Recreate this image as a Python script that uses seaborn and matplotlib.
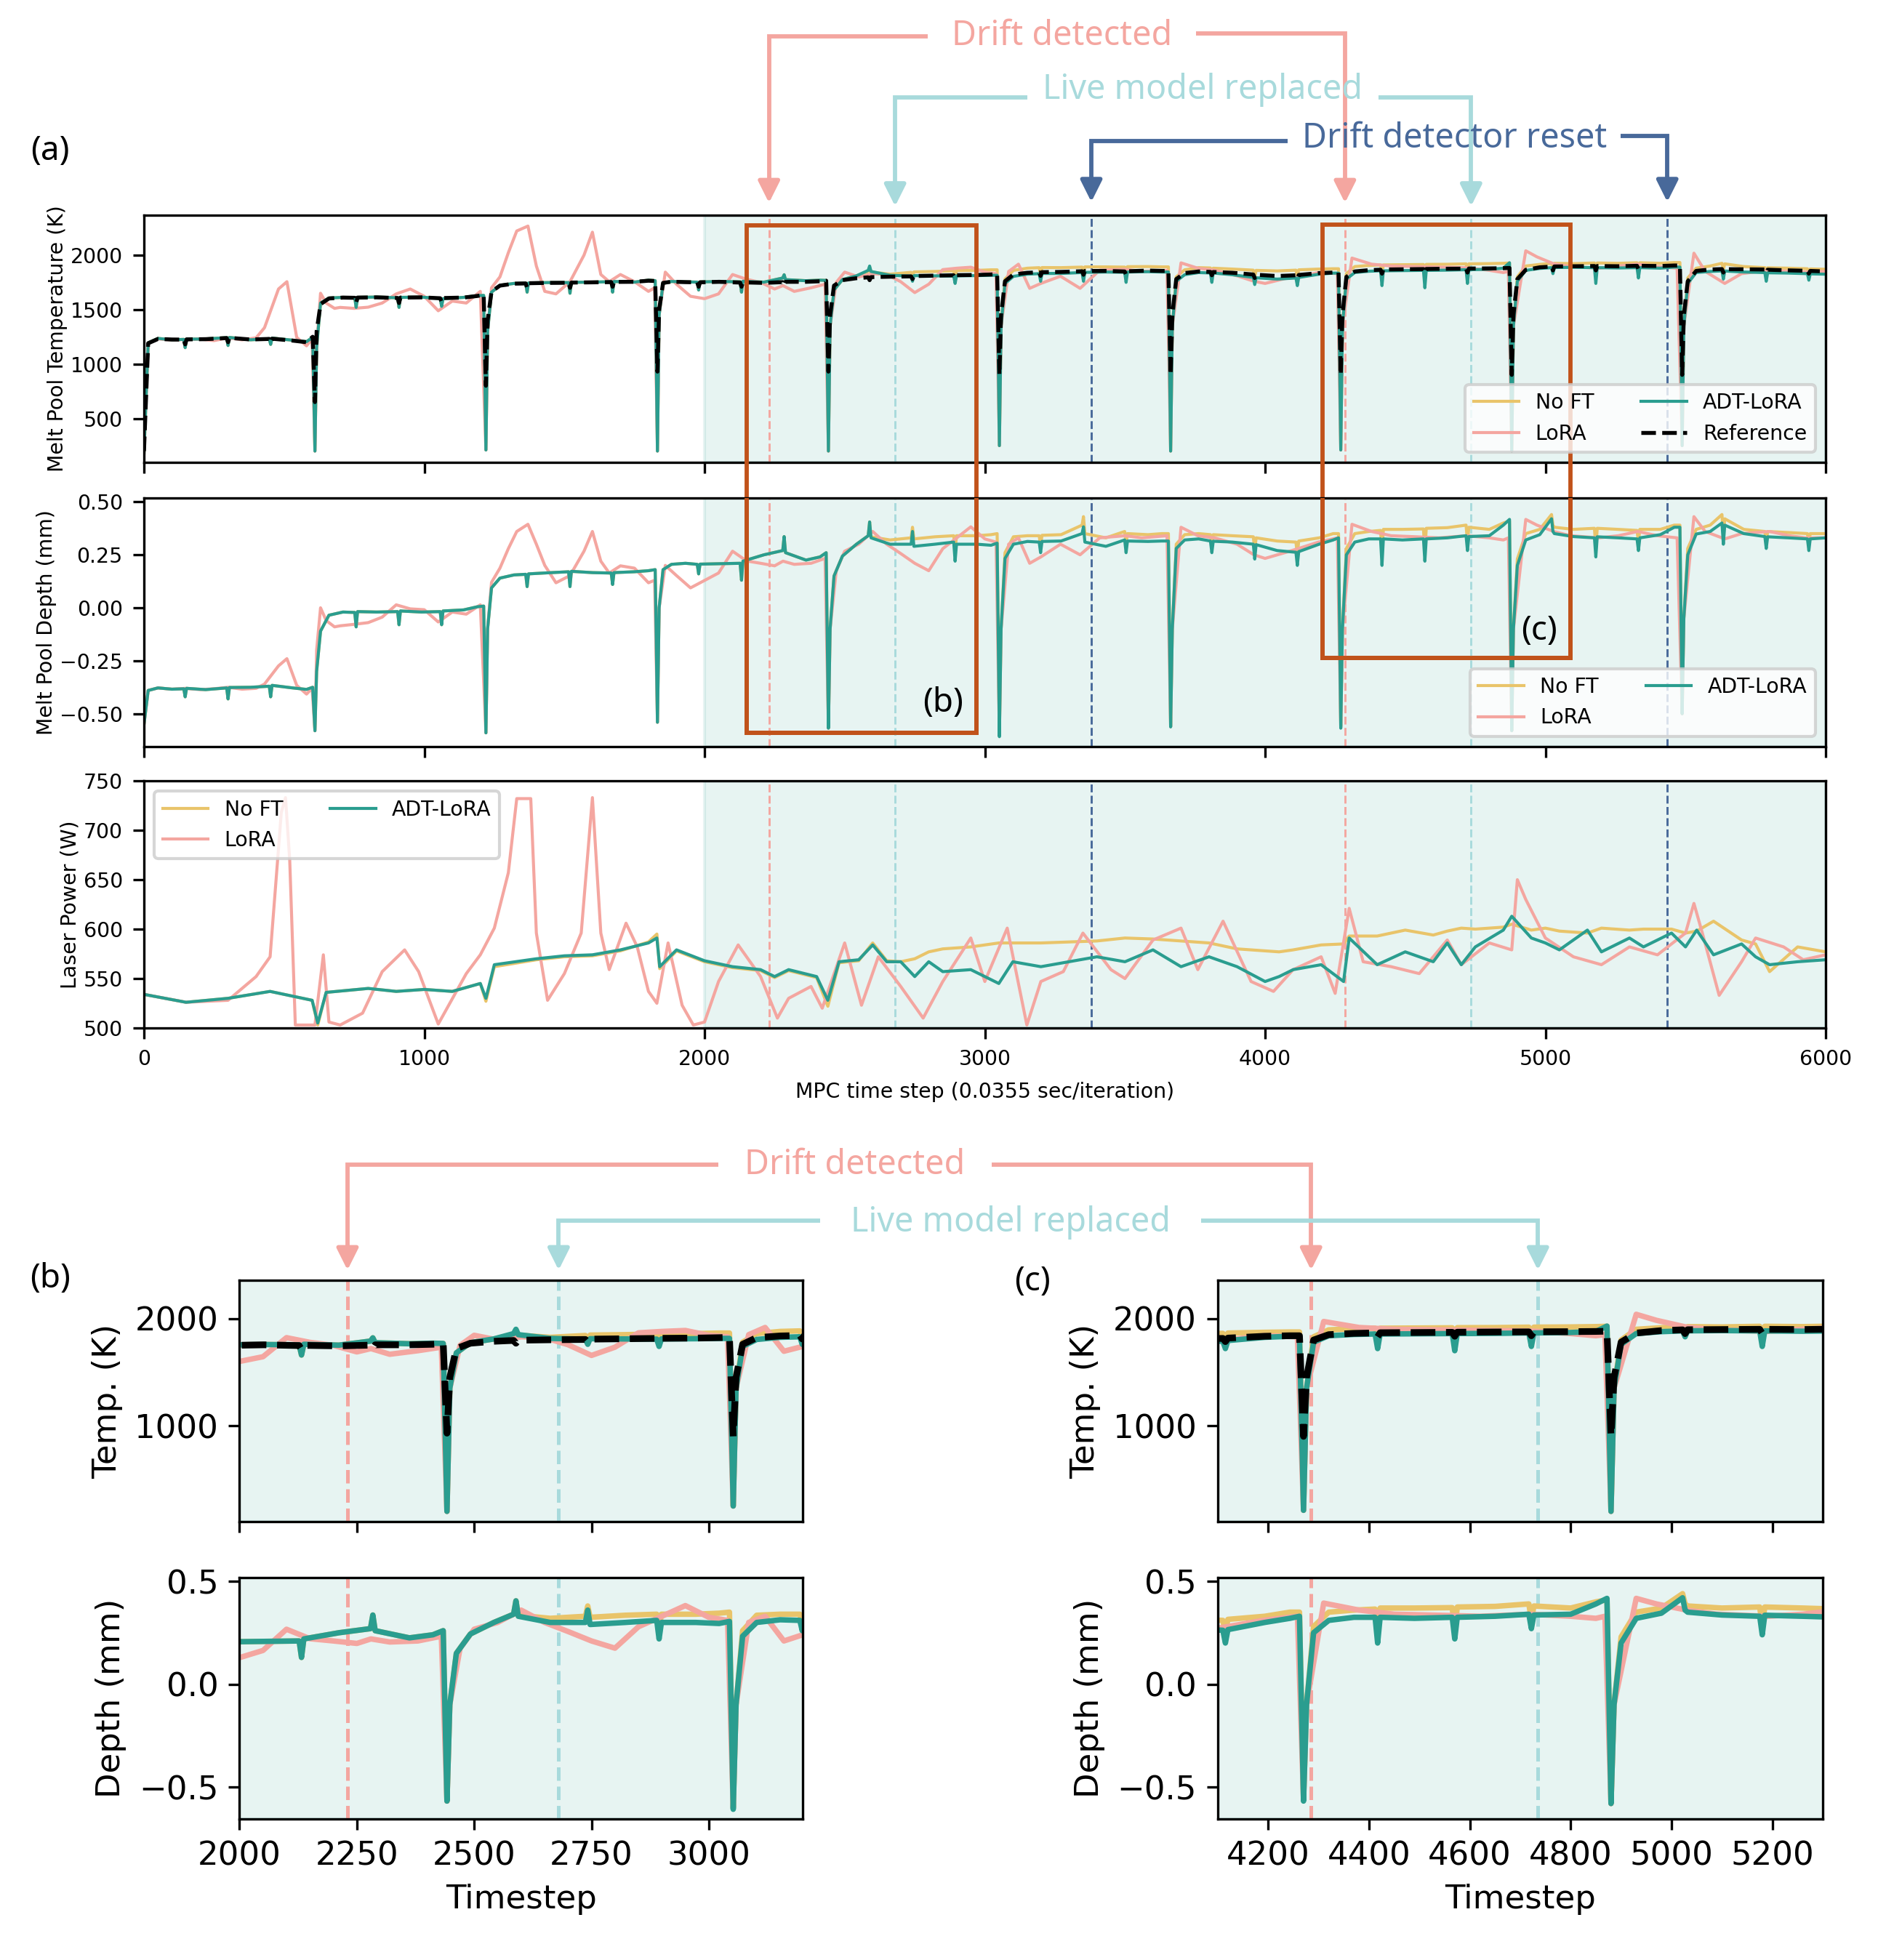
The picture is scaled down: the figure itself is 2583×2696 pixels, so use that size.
import matplotlib
matplotlib.use("Agg")
import matplotlib.pyplot as plt
import seaborn as sns
from matplotlib.lines import Line2D
from matplotlib.patches import FancyArrowPatch, Rectangle

plt.rcParams['font.family'] = ['DejaVu Sans']

# ---------------- data ----------------
# time steps (one row per layer; big dip at layer start, small dips at quarter tracks)
steps = [
    0, 15, 50, 100, 142, 147, 152, 220, 295, 300, 305, 380, 447, 452, 457, 530, 580,
    602, 610, 616, 630, 660, 710, 752, 757, 762, 830, 905, 910, 915, 990, 1057, 1062, 1067, 1140, 1190,
    1212, 1220, 1226, 1240, 1270, 1320, 1362, 1367, 1372, 1440, 1515, 1520, 1525, 1600, 1667, 1672, 1677, 1750, 1800,
    1824, 1832, 1838, 1852, 1882, 1932, 1974, 1979, 1984, 2052, 2127, 2132, 2137, 2212, 2279, 2284, 2289, 2362, 2412,
    2434, 2442, 2448, 2462, 2492, 2542, 2584, 2589, 2594, 2662, 2737, 2742, 2747, 2822, 2889, 2894, 2899, 2972, 3022,
    3044, 3052, 3058, 3072, 3102, 3152, 3194, 3199, 3204, 3272, 3347, 3352, 3357, 3432, 3499, 3504, 3509, 3582, 3632,
    3655, 3663, 3669, 3683, 3713, 3763, 3805, 3810, 3815, 3883, 3958, 3963, 3968, 4043, 4110, 4115, 4120, 4193, 4243,
    4262, 4270, 4276, 4290, 4320, 4370, 4412, 4417, 4422, 4490, 4565, 4570, 4575, 4650, 4717, 4722, 4727, 4800, 4850,
    4872, 4880, 4886, 4900, 4930, 4980, 5022, 5027, 5032, 5100, 5175, 5180, 5185, 5260, 5327, 5332, 5337, 5410, 5460,
    5480, 5488, 5494, 5508, 5538, 5588, 5630, 5635, 5640, 5708, 5783, 5788, 5793, 5868, 5935, 5940, 5945, 6000,
]

ref_temp = [
    200, 1190, 1230, 1225, 1224, 1180, 1226, 1228, 1238, 1200, 1240, 1225, 1230, 1195, 1232, 1215, 1200,
    1250, 650, 1300, 1550, 1602, 1610, 1608, 1560, 1610, 1612, 1606, 1560, 1610, 1612, 1604, 1570, 1606, 1610, 1625,
    1635, 800, 1400, 1665, 1720, 1738, 1740, 1700, 1742, 1745, 1746, 1700, 1748, 1750, 1752, 1710, 1754, 1755, 1765,
    1762, 930, 1500, 1745, 1756, 1752, 1750, 1710, 1750, 1755, 1748, 1710, 1750, 1745, 1752, 1720, 1755, 1755, 1760,
    1765, 930, 1450, 1720, 1770, 1788, 1796, 1770, 1798, 1802, 1805, 1780, 1808, 1812, 1815, 1790, 1816, 1818, 1822,
    1825, 900, 1450, 1760, 1822, 1838, 1842, 1810, 1844, 1846, 1852, 1820, 1854, 1855, 1850, 1820, 1852, 1858, 1855,
    1855, 900, 1450, 1780, 1835, 1850, 1846, 1815, 1845, 1838, 1822, 1790, 1820, 1808, 1815, 1785, 1818, 1835, 1840,
    1840, 900, 1450, 1800, 1850, 1862, 1866, 1830, 1868, 1870, 1872, 1835, 1873, 1875, 1876, 1840, 1877, 1878, 1880,
    1882, 900, 1450, 1780, 1865, 1888, 1895, 1860, 1896, 1898, 1900, 1860, 1900, 1898, 1902, 1870, 1902, 1900, 1905,
    1905, 900, 1450, 1760, 1855, 1868, 1872, 1840, 1871, 1870, 1868, 1840, 1866, 1860, 1856, 1830, 1855, 1850,
]

adt_temp = [
    180, 1195, 1235, 1222, 1226, 1150, 1228, 1230, 1242, 1170, 1244, 1222, 1232, 1180, 1238, 1218, 1205,
    1245, 200, 1150, 1560, 1606, 1612, 1610, 1520, 1612, 1615, 1608, 1520, 1612, 1614, 1602, 1530, 1600, 1612, 1628,
    1630, 210, 1300, 1660, 1722, 1740, 1742, 1660, 1744, 1748, 1748, 1650, 1750, 1752, 1756, 1660, 1758, 1752, 1770,
    1765, 200, 1450, 1740, 1758, 1755, 1752, 1680, 1754, 1758, 1755, 1660, 1760, 1752, 1790, 1820, 1775, 1765, 1770,
    1768, 200, 1350, 1680, 1775, 1810, 1860, 1900, 1850, 1815, 1808, 1760, 1812, 1810, 1808, 1740, 1810, 1812, 1815,
    1815, 250, 1350, 1740, 1805, 1825, 1830, 1760, 1832, 1832, 1840, 1760, 1842, 1845, 1842, 1750, 1845, 1848, 1845,
    1845, 200, 1350, 1760, 1820, 1840, 1836, 1750, 1836, 1820, 1795, 1730, 1792, 1780, 1790, 1720, 1795, 1825, 1835,
    1835, 210, 1350, 1780, 1840, 1852, 1856, 1720, 1856, 1858, 1860, 1700, 1860, 1862, 1866, 1740, 1866, 1870, 1880,
    1930, 200, 1350, 1760, 1860, 1878, 1885, 1830, 1886, 1888, 1885, 1740, 1885, 1882, 1885, 1790, 1885, 1880, 1890,
    1890, 250, 1350, 1740, 1840, 1850, 1855, 1780, 1854, 1845, 1840, 1760, 1838, 1835, 1830, 1770, 1828, 1825,
]

noft_temp = [
    180, 1195, 1235, 1222, 1226, 1150, 1228, 1230, 1242, 1170, 1244, 1222, 1232, 1180, 1238, 1218, 1205,
    1245, 200, 1150, 1560, 1606, 1612, 1610, 1520, 1612, 1615, 1608, 1520, 1612, 1614, 1602, 1530, 1600, 1612, 1628,
    1630, 210, 1300, 1660, 1722, 1740, 1742, 1660, 1744, 1748, 1748, 1650, 1750, 1752, 1756, 1660, 1758, 1752, 1770,
    1765, 200, 1450, 1740, 1758, 1755, 1752, 1680, 1754, 1758, 1755, 1660, 1760, 1752, 1790, 1820, 1775, 1765, 1770,
    1768, 200, 1350, 1680, 1775, 1810, 1850, 1890, 1845, 1825, 1842, 1800, 1846, 1850, 1856, 1790, 1858, 1860, 1865,
    1865, 250, 1350, 1780, 1860, 1880, 1885, 1820, 1886, 1885, 1890, 1830, 1892, 1892, 1890, 1820, 1894, 1895, 1892,
    1892, 200, 1350, 1800, 1865, 1885, 1882, 1820, 1880, 1872, 1862, 1800, 1860, 1855, 1862, 1800, 1865, 1872, 1875,
    1875, 210, 1350, 1830, 1895, 1905, 1910, 1830, 1910, 1912, 1914, 1820, 1915, 1916, 1920, 1840, 1920, 1922, 1925,
    1928, 200, 1350, 1800, 1900, 1915, 1925, 1880, 1925, 1922, 1928, 1800, 1928, 1925, 1930, 1840, 1930, 1925, 1932,
    1932, 250, 1350, 1790, 1880, 1900, 1925, 1870, 1920, 1895, 1885, 1830, 1884, 1880, 1875, 1830, 1873, 1870,
]

adt_depth = [
    -0.55, -0.39, -0.378, -0.384, -0.382, -0.42, -0.38, -0.386, -0.378, -0.43, -0.376, -0.375, -0.37, -0.42, -0.366, -0.378, -0.385,
    -0.375, -0.58, -0.3, -0.11, -0.035, -0.02, -0.022, -0.09, -0.018, -0.02, -0.018, -0.08, -0.015, -0.02, -0.018, -0.08, -0.015, -0.01, 0.005,
    0.008, -0.59, -0.1, 0.094, 0.14, 0.155, 0.158, 0.1, 0.16, 0.165, 0.17, 0.1, 0.172, 0.166, 0.164, 0.11, 0.166, 0.17, 0.175,
    0.18, -0.54, 0.0, 0.18, 0.205, 0.21, 0.205, 0.16, 0.206, 0.208, 0.21, 0.13, 0.22, 0.25, 0.27, 0.336, 0.26, 0.225, 0.24,
    0.26, -0.568, -0.1, 0.15, 0.244, 0.3, 0.34, 0.405, 0.33, 0.3, 0.3, 0.36, 0.29, 0.3, 0.31, 0.22, 0.3, 0.3, 0.295,
    0.305, -0.608, -0.1, 0.233, 0.3, 0.313, 0.31, 0.26, 0.313, 0.315, 0.35, 0.382, 0.31, 0.29, 0.32, 0.26, 0.315, 0.313, 0.315,
    0.315, -0.562, -0.1, 0.28, 0.32, 0.325, 0.315, 0.26, 0.314, 0.31, 0.3, 0.23, 0.298, 0.27, 0.262, 0.2, 0.265, 0.3, 0.32,
    0.33, -0.568, -0.1, 0.25, 0.31, 0.325, 0.325, 0.2, 0.325, 0.32, 0.325, 0.22, 0.325, 0.33, 0.34, 0.27, 0.336, 0.34, 0.39,
    0.417, -0.58, -0.1, 0.2, 0.32, 0.345, 0.42, 0.36, 0.35, 0.336, 0.33, 0.24, 0.335, 0.33, 0.325, 0.27, 0.33, 0.345, 0.38,
    0.38, -0.5, -0.05, 0.25, 0.348, 0.36, 0.4, 0.3, 0.39, 0.35, 0.336, 0.28, 0.335, 0.33, 0.325, 0.27, 0.325, 0.33,
]

noft_depth = [
    -0.55, -0.39, -0.378, -0.384, -0.382, -0.42, -0.38, -0.386, -0.378, -0.43, -0.376, -0.375, -0.37, -0.42, -0.366, -0.378, -0.385,
    -0.375, -0.58, -0.3, -0.11, -0.035, -0.02, -0.022, -0.09, -0.018, -0.02, -0.018, -0.08, -0.015, -0.02, -0.018, -0.08, -0.015, -0.01, 0.005,
    0.008, -0.59, -0.1, 0.094, 0.14, 0.155, 0.158, 0.1, 0.16, 0.165, 0.17, 0.1, 0.172, 0.166, 0.164, 0.11, 0.166, 0.17, 0.175,
    0.18, -0.54, 0.0, 0.18, 0.205, 0.21, 0.205, 0.16, 0.206, 0.208, 0.21, 0.13, 0.22, 0.25, 0.27, 0.336, 0.26, 0.225, 0.24,
    0.26, -0.568, -0.1, 0.15, 0.244, 0.3, 0.34, 0.405, 0.335, 0.32, 0.33, 0.38, 0.325, 0.335, 0.34, 0.27, 0.34, 0.34, 0.345,
    0.35, -0.6, -0.1, 0.26, 0.335, 0.34, 0.34, 0.29, 0.342, 0.345, 0.39, 0.43, 0.35, 0.33, 0.36, 0.3, 0.35, 0.345, 0.35,
    0.35, -0.56, -0.1, 0.3, 0.345, 0.35, 0.345, 0.29, 0.345, 0.34, 0.335, 0.27, 0.33, 0.315, 0.31, 0.25, 0.315, 0.33, 0.35,
    0.35, -0.56, -0.1, 0.28, 0.35, 0.36, 0.365, 0.26, 0.37, 0.37, 0.372, 0.26, 0.375, 0.378, 0.39, 0.31, 0.38, 0.37, 0.4,
    0.41, -0.58, -0.1, 0.23, 0.35, 0.37, 0.44, 0.39, 0.38, 0.37, 0.375, 0.28, 0.375, 0.37, 0.365, 0.31, 0.37, 0.37, 0.39,
    0.39, -0.5, -0.05, 0.28, 0.37, 0.39, 0.44, 0.34, 0.42, 0.37, 0.36, 0.3, 0.36, 0.355, 0.35, 0.3, 0.35, 0.35,
]

lora_steps = [
    0, 15, 50, 100, 150, 200, 250, 300, 350, 400,
    430, 480, 510, 545, 580, 600, 610, 616, 630, 650,
    680, 700, 750, 800, 850, 900, 950, 1000, 1050, 1100,
    1150, 1200, 1220, 1226, 1240, 1270, 1300, 1330, 1370, 1400,
    1430, 1470, 1520, 1570, 1600, 1630, 1660, 1700, 1750, 1800,
    1822, 1832, 1838, 1860, 1900, 1950, 2000, 2050, 2100, 2150,
    2200, 2250, 2280, 2320, 2380, 2430, 2442, 2448, 2470, 2500,
    2550, 2600, 2650, 2700, 2750, 2800, 2850, 2900, 2950, 3000,
    3040, 3052, 3058, 3085, 3120, 3160, 3200, 3270, 3340, 3410,
    3500, 3560, 3650, 3663, 3669, 3700, 3760, 3820, 3900, 3960,
    4000, 4070, 4120, 4190, 4258, 4270, 4276, 4310, 4380, 4450,
    4540, 4620, 4720, 4800, 4850, 4868, 4880, 4886, 4930, 4970,
    5030, 5090, 5190, 5260, 5330, 5400, 5470, 5488, 5494, 5530,
    5570, 5640, 5700, 5800, 5870, 5930, 6000,
]

lora_temp = [
    180, 1195, 1230, 1220, 1225, 1228, 1215, 1240, 1222, 1240,
    1333, 1689, 1756, 1244, 1167, 1230, 200, 1150, 1650, 1560,
    1511, 1520, 1511, 1522, 1560, 1644, 1689, 1622, 1489, 1578,
    1560, 1667, 210, 1300, 1700, 1800, 2022, 2222, 2267, 1900,
    1667, 1644, 1756, 2000, 2211, 1822, 1756, 1822, 1756, 1667,
    1700, 200, 1450, 1844, 1733, 1622, 1600, 1644, 1822, 1778,
    1750, 1689, 1720, 1667, 1700, 1733, 200, 1350, 1750, 1844,
    1800, 1830, 1822, 1756, 1656, 1733, 1867, 1880, 1889, 1844,
    1830, 250, 1350, 1850, 1917, 1695, 1740, 1806, 1695, 1862,
    1870, 1851, 1860, 200, 1350, 1929, 1880, 1862, 1810, 1760,
    1740, 1784, 1800, 1840, 1830, 210, 1350, 1973, 1917, 1900,
    1895, 1890, 1884, 1860, 1840, 1850, 200, 1350, 2040, 1984,
    1920, 1895, 1880, 1900, 1917, 1895, 1880, 250, 1350, 2018,
    1851, 1740, 1830, 1862, 1851, 1845, 1851,
]

lora_depth = [
    -0.55, -0.39, -0.378, -0.384, -0.38, -0.386, -0.382, -0.375, -0.384, -0.38,
    -0.36, -0.274, -0.24, -0.366, -0.407, -0.38, -0.58, -0.2, 0.0, -0.06,
    -0.09, -0.085, -0.078, -0.07, -0.044, 0.014, -0.005, -0.009, -0.067, -0.02,
    -0.03, 0.014, -0.59, -0.1, 0.12, 0.187, 0.279, 0.36, 0.394, 0.3,
    0.2, 0.118, 0.152, 0.267, 0.36, 0.22, 0.164, 0.198, 0.187, 0.118,
    0.13, -0.54, 0.0, 0.2, 0.152, 0.094, 0.129, 0.164, 0.267, 0.221,
    0.21, 0.198, 0.22, 0.205, 0.21, 0.233, -0.568, -0.1, 0.175, 0.267,
    0.3, 0.36, 0.3, 0.256, 0.21, 0.175, 0.279, 0.33, 0.382, 0.325,
    0.31, -0.6, -0.1, 0.3, 0.33, 0.21, 0.24, 0.3, 0.25, 0.33,
    0.34, 0.33, 0.34, -0.56, -0.1, 0.38, 0.34, 0.33, 0.3, 0.25,
    0.233, 0.26, 0.28, 0.31, 0.33, -0.56, -0.1, 0.394, 0.36, 0.34,
    0.335, 0.33, 0.34, 0.33, 0.32, 0.33, -0.58, -0.1, 0.417, 0.39,
    0.36, 0.34, 0.33, 0.34, 0.36, 0.34, 0.33, -0.5, -0.05, 0.43,
    0.36, 0.325, 0.35, 0.36, 0.34, 0.33, 0.33,
]

power_steps = [
    0, 150, 300, 450, 600, 620, 650, 800, 900, 1000,
    1100, 1200, 1220, 1250, 1400, 1500, 1600, 1700, 1800, 1830,
    1840, 1900, 2000, 2100, 2200, 2250, 2300, 2400, 2440, 2480,
    2550, 2600, 2650, 2700, 2750, 2800, 2850, 2950, 3050, 3100,
    3200, 3300, 3400, 3500, 3600, 3700, 3800, 3900, 4000, 4050,
    4100, 4200, 4280, 4300, 4400, 4500, 4600, 4650, 4700, 4750,
    4850, 4880, 4950, 5000, 5050, 5150, 5200, 5300, 5350, 5450,
    5500, 5540, 5600, 5700, 5750, 5800, 5900, 6000,
]
adt_power = [
    534, 526, 530, 537, 528, 505, 536, 540, 537, 539,
    537, 545, 530, 564, 570, 573, 574, 579, 586, 591,
    562, 579, 568, 562, 559, 552, 559, 552, 528, 567,
    569, 584, 567, 567, 552, 567, 557, 559, 545, 567,
    562, 567, 572, 567, 579, 562, 572, 562, 547, 552,
    559, 564, 547, 591, 564, 577, 567, 586, 564, 582,
    599, 613, 591, 586, 579, 599, 577, 591, 582, 596,
    582, 599, 574, 585, 572, 564, 567, 569,
]
noft_power = [
    534, 526, 530, 537, 528, 503, 536, 540, 537, 539,
    537, 545, 527, 562, 569, 572, 573, 578, 587, 595,
    560, 578, 567, 561, 558, 551, 558, 551, 522, 566,
    568, 586, 568, 567, 570, 577, 580, 582, 586, 586,
    586, 587, 588, 591, 590, 588, 586, 580, 578, 577,
    579, 584, 585, 593, 593, 599, 594, 598, 601, 600,
    602, 605, 599, 601, 598, 596, 601, 599, 600, 600,
    596, 598, 608, 589, 585, 557, 582, 577,
]
lora_power_steps = [
    0, 150, 300, 400, 450, 490, 505, 520, 540, 610,
    640, 660, 700, 780, 850, 930, 980, 1050, 1150, 1200,
    1250, 1300, 1330, 1380, 1400, 1440, 1500, 1560, 1600, 1630,
    1660, 1720, 1760, 1800, 1830, 1870, 1920, 1960, 2000, 2050,
    2120, 2200, 2260, 2300, 2380, 2420, 2500, 2560, 2620, 2700,
    2780, 2850, 2950, 3000, 3080, 3150, 3200, 3280, 3350, 3450,
    3500, 3600, 3700, 3760, 3850, 3950, 4030, 4100, 4200, 4250,
    4300, 4350, 4450, 4550, 4650, 4700, 4800, 4880, 4900, 4930,
    5000, 5100, 5200, 5300, 5400, 5500, 5530, 5560, 5620, 5700,
    5750, 5850, 5920, 6000,
]
lora_power = [
    534, 526, 528, 552, 572, 718, 733, 670, 503, 503,
    574, 506, 503, 515, 557, 579, 557, 504, 555, 574,
    601, 657, 732, 732, 596, 528, 555, 596, 733, 596,
    559, 606, 582, 537, 525, 586, 523, 503, 506, 547,
    584, 552, 510, 530, 542, 520, 586, 523, 572, 542,
    510, 547, 591, 547, 601, 503, 547, 557, 596, 559,
    550, 589, 601, 559, 608, 547, 537, 559, 572, 535,
    621, 567, 562, 555, 589, 564, 586, 579, 650, 630,
    591, 572, 564, 582, 574, 596, 626, 596, 533, 567,
    591, 582, 569, 574,
]

drift_steps = [2230, 4285]
replace_steps = [2680, 4735]
reset_steps = [3380, 5435]

for name, arr in (('ref_temp', ref_temp), ('adt_temp', adt_temp), ('noft_temp', noft_temp),
                  ('adt_depth', adt_depth), ('noft_depth', noft_depth)):
    if len(arr) != len(steps):
        raise ValueError(f'{name}: {len(arr)} vs {len(steps)}')

# ---------------- styling ----------------
C_NOFT = '#E9C46A'
C_LORA = '#F4A6A0'
C_ADT = '#2A9D8F'
C_DRIFT = '#F4A6A0'
C_LIVE = '#A8DADC'
C_RESET = '#48699A'
C_BOX = '#C1521A'
ANN_FONT = ['Noto Sans', 'DejaVu Sans']

W, H = 2583, 2696
fig = plt.figure(figsize=(W / 300, H / 300), dpi=300, facecolor='white')

ax_t = fig.add_axes([0.07666, 0.76409, 0.89547, 0.12612])
ax_d = fig.add_axes([0.07666, 0.61907, 0.89547, 0.12685])
ax_p = fig.add_axes([0.07666, 0.47552, 0.89547, 0.12611])
ax_bt = fig.add_axes([0.12756, 0.22366, 0.29985, 0.12315])
ax_bd = fig.add_axes([0.12756, 0.07196, 0.29985, 0.12315])
ax_ct = fig.add_axes([0.64847, 0.22366, 0.32210, 0.12315])
ax_cd = fig.add_axes([0.64847, 0.07196, 0.32210, 0.12315])

for a in (ax_d, ax_p):
    a.patch.set_facecolor('none')


def background(ax, big):
    ax.axvspan(2000, 6000, color=C_ADT, alpha=0.11, zorder=0)
    lw = 0.7 if big else 1.2
    for xs, c in ((drift_steps, C_DRIFT), (replace_steps, C_LIVE), (reset_steps, C_RESET)):
        for x in xs:
            ax.axvline(x, color=c, ls='--', lw=lw, zorder=1)


def draw(ax, x, y, c, lab, ls, w):
    sns.lineplot(x=x, y=y, ax=ax, color=c, lw=w, ls=ls, label=lab,
                 estimator=None, sort=False)


for ax, big in ((ax_t, True), (ax_d, True), (ax_p, True),
                (ax_bt, False), (ax_bd, False), (ax_ct, False), (ax_cd, False)):
    background(ax, big)

# temperature
for ax, w, wr in ((ax_t, 1.0, 1.3), (ax_bt, 1.8, 2.2), (ax_ct, 1.8, 2.2)):
    draw(ax, steps, noft_temp, C_NOFT, 'No FT', '-', w)
    draw(ax, lora_steps, lora_temp, C_LORA, 'LoRA', '-', w)
    draw(ax, steps, adt_temp, C_ADT, 'ADT-LoRA', '-', w)
    draw(ax, steps, ref_temp, 'black', 'Reference', '--', wr)
# depth
for ax, w in ((ax_d, 1.0), (ax_bd, 1.8), (ax_cd, 1.8)):
    draw(ax, steps, noft_depth, C_NOFT, 'No FT', '-', w)
    draw(ax, lora_steps, lora_depth, C_LORA, 'LoRA', '-', w)
    draw(ax, steps, adt_depth, C_ADT, 'ADT-LoRA', '-', w)
# laser power
draw(ax_p, power_steps, noft_power, C_NOFT, 'No FT', '-', 1.0)
draw(ax_p, lora_power_steps, lora_power, C_LORA, 'LoRA', '-', 1.0)
draw(ax_p, power_steps, adt_power, C_ADT, 'ADT-LoRA', '-', 1.0)

for ax in (ax_bt, ax_ct, ax_bd, ax_cd):
    if ax.get_legend() is not None:
        ax.get_legend().remove()

SF = 6.8
for ax in (ax_t, ax_d, ax_p):
    ax.set_xlim(0, 6000)
    ax.set_xticks(range(0, 6001, 1000))
    ax.tick_params(labelsize=SF)
ax_t.tick_params(labelbottom=False)
ax_d.tick_params(labelbottom=False)
ax_t.set_ylim(96, 2367)
ax_t.set_yticks([500, 1000, 1500, 2000])
ax_d.set_ylim(-0.655, 0.518)
ax_d.set_yticks([-0.5, -0.25, 0.0, 0.25, 0.5])
ax_p.set_ylim(500, 750)
ax_p.set_yticks(range(500, 751, 50))
ax_t.set_ylabel('Melt Pool Temperature (K)', fontsize=SF, labelpad=1)
ax_d.set_ylabel('Melt Pool Depth (mm)', fontsize=SF, labelpad=1)
ax_p.set_ylabel('Laser Power (W)', fontsize=SF, labelpad=1)
ax_p.set_xlabel('MPC time step (0.0355 sec/iteration)', fontsize=SF)
for a in (ax_t, ax_d):
    a.set_xlabel('')

leg_kw = dict(ncol=2, fontsize=SF, handlelength=2.2, columnspacing=2.3)
ax_t.legend(loc='lower right', **leg_kw)
ax_d.legend(loc='lower right', **leg_kw)
ax_p.legend(loc='upper left', **leg_kw)

LF = 10.8
for ax, rng, ticks in ((ax_bt, (2000, 3200), [2000, 2250, 2500, 2750, 3000]),
                       (ax_bd, (2000, 3200), [2000, 2250, 2500, 2750, 3000]),
                       (ax_ct, (4100, 5300), [4200, 4400, 4600, 4800, 5000, 5200]),
                       (ax_cd, (4100, 5300), [4200, 4400, 4600, 4800, 5000, 5200])):
    ax.set_xlim(*rng)
    ax.set_xticks(ticks)
    ax.tick_params(labelsize=LF)
for ax in (ax_bt, ax_ct):
    ax.set_ylim(104, 2358)
    ax.set_yticks([1000, 2000])
    ax.set_ylabel('Temp. (K)', fontsize=LF)
    ax.set_xlabel('')
    ax.tick_params(labelbottom=False)
for ax in (ax_bd, ax_cd):
    ax.set_ylim(-0.655, 0.518)
    ax.set_yticks([-0.5, 0.0, 0.5])
    ax.set_ylabel('Depth (mm)', fontsize=LF)
    ax.set_xlabel('Timestep', fontsize=LF)

# ---------------- zoom boxes ----------------
boxes = [((0.3976, 0.6261), 0.5199 - 0.3976, 0.8850 - 0.6261),
         ((0.7042, 0.6643), 0.8362 - 0.7042, 0.8854 - 0.6643)]
for (x0, y0), bw, bh in boxes:
    r1 = Rectangle((x0, y0), bw, bh, transform=fig.transFigure, fill=False,
                   ec=C_BOX, lw=1.4, zorder=4, clip_on=False)
    ax_t.add_artist(r1)
    r2 = Rectangle((x0, y0), bw, bh, transform=fig.transFigure, fill=False,
                   ec=C_BOX, lw=1.4, zorder=4, clip_on=True)
    ax_d.add_artist(r2)
fig.text(0.5021, 0.6413, '(b)', fontsize=11, family=ANN_FONT, ha='center', va='center')
fig.text(0.8196, 0.6780, '(c)', fontsize=11, family=ANN_FONT, ha='center', va='center')

# ---------------- bracket annotations ----------------
inv = fig.transFigure.inverted()


def fx(ax, xv):
    return inv.transform(ax.transData.transform((xv, ax.get_ylim()[0])))[0]


def bracket(text, color, y_base, y_l, y_r, gap_l, gap_r, xl, xr, tip_l, tip_r):
    fig.text((gap_l + gap_r) / 2, y_base, text, color=color, fontsize=11.2,
             family=ANN_FONT, ha='center', va='baseline')
    for (gx, xx, yy, tip) in ((gap_l, xl, y_l, tip_l), (gap_r, xr, y_r, tip_r)):
        fig.add_artist(Line2D([gx, xx, xx], [yy, yy, tip + 0.004], color=color, lw=1.4,
                              transform=fig.transFigure, solid_joinstyle='miter',
                              solid_capstyle='butt'))
        fig.add_artist(FancyArrowPatch((xx, tip + 0.006), (xx, tip), transform=fig.transFigure,
                                       arrowstyle='-|>', mutation_scale=15, color=color,
                                       lw=1.4, shrinkA=0, shrinkB=0))


bracket('Drift detected', C_DRIFT, 0.97682, 0.9815, 0.9830, 0.494, 0.637,
        fx(ax_t, drift_steps[0]), fx(ax_t, drift_steps[1]), 0.8965, 0.8965)
bracket('Live model replaced', C_LIVE, 0.94955, 0.9503, 0.9503, 0.547, 0.734,
        fx(ax_t, replace_steps[0]), fx(ax_t, replace_steps[1]), 0.8948, 0.8948)
bracket('Drift detector reset', C_RESET, 0.9247, 0.928, 0.9308, 0.6858, 0.863,
        fx(ax_t, reset_steps[0]), fx(ax_t, reset_steps[1]), 0.8970, 0.8970)

bracket('Drift detected', C_DRIFT, 0.4009, 0.4057, 0.4057, 0.3826, 0.528,
        fx(ax_bt, drift_steps[0]), fx(ax_ct, drift_steps[1]), 0.352, 0.352)
bracket('Live model replaced', C_LIVE, 0.3718, 0.3772, 0.3772, 0.4368, 0.6397,
        fx(ax_bt, replace_steps[0]), fx(ax_ct, replace_steps[1]), 0.352, 0.352)

fig.text(0.0267, 0.923, '(a)', fontsize=11, family=ANN_FONT, ha='center', va='center')
fig.text(0.0267, 0.3476, '(b)', fontsize=11, family=ANN_FONT, ha='center', va='center')
fig.text(0.5497, 0.3460, '(c)', fontsize=11, family=ANN_FONT, ha='center', va='center')

fig.savefig('out.png', dpi=300, facecolor='white')
